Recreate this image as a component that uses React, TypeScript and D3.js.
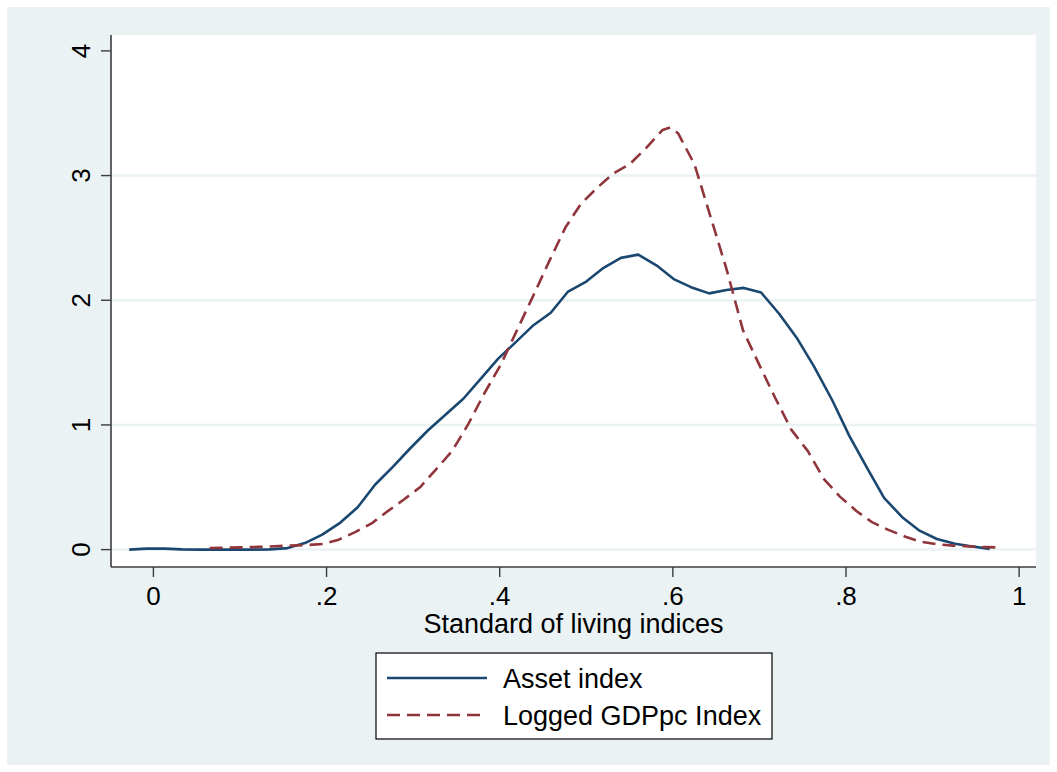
import React from 'react';
import * as d3 from 'd3';

// kernel density estimates (50 evaluation points each)
const assetX = [
  -0.028, -0.008, 0.013, 0.033, 0.053, 0.074, 0.094, 0.114, 0.134, 0.155,
  0.175, 0.195, 0.216, 0.236, 0.256, 0.276, 0.297, 0.317, 0.337, 0.358,
  0.378, 0.398, 0.418, 0.439, 0.459, 0.479, 0.5, 0.52, 0.54, 0.56,
  0.581, 0.601, 0.621, 0.642, 0.662, 0.682, 0.702, 0.723, 0.743, 0.763,
  0.784, 0.804, 0.824, 0.844, 0.865, 0.885, 0.905, 0.926, 0.946, 0.966,
];
const assetY = [
  0.0, 0.008, 0.008, 0.002, 0.0, 0.0, 0.0, 0.0, 0.002, 0.012,
  0.052, 0.12, 0.217, 0.34, 0.52, 0.66, 0.815, 0.955, 1.08, 1.21,
  1.37, 1.53, 1.66, 1.8, 1.9, 2.07, 2.15, 2.26, 2.34, 2.366,
  2.28, 2.17, 2.105, 2.055, 2.082, 2.099, 2.062, 1.89, 1.7, 1.47,
  1.2, 0.91, 0.66, 0.415, 0.26, 0.152, 0.085, 0.047, 0.025, 0.006,
];

const gdpX = [
  0.065, 0.084, 0.102, 0.121, 0.14, 0.158, 0.177, 0.196, 0.214, 0.233,
  0.252, 0.27, 0.289, 0.308, 0.326, 0.345, 0.364, 0.382, 0.401, 0.42,
  0.438, 0.457, 0.476, 0.494, 0.513, 0.532, 0.55, 0.569, 0.588, 0.597,
  0.606, 0.625, 0.644, 0.662, 0.681, 0.7, 0.718, 0.737, 0.756, 0.774,
  0.793, 0.812, 0.83, 0.849, 0.868, 0.886, 0.905, 0.924, 0.942, 0.961, 0.98,
];
const gdpY = [
  0.012, 0.015, 0.018, 0.022, 0.027, 0.032, 0.036, 0.045, 0.08, 0.14,
  0.21, 0.305, 0.4, 0.5, 0.64, 0.79, 1.01, 1.25, 1.48, 1.76,
  2.025, 2.31, 2.585, 2.775, 2.905, 3.02, 3.09, 3.22, 3.365, 3.385,
  3.34, 3.09, 2.66, 2.25, 1.76, 1.48, 1.22, 0.96, 0.79, 0.57,
  0.425, 0.31, 0.22, 0.158, 0.105, 0.063, 0.043, 0.032, 0.026, 0.02, 0.016,
];

const xTicks = [0, 0.2, 0.4, 0.6, 0.8, 1];
const xTickLabels = ['0', '.2', '.4', '.6', '.8', '1'];
const yTicks = [0, 1, 2, 3, 4];
const gridValues = [0, 1, 2, 3];

const seriesNames = ['Asset index', 'Logged GDPpc Index'];
const seriesColors = ['#1a476f', '#90353b'];
const seriesDash = [null, '13,7'];

const W = 1057;
const H = 772;
const plot = { left: 111, right: 1036, top: 35, bottom: 567 };
const font = '"Liberation Sans", Arial, Helvetica, sans-serif';
const bg = '#eaf2f3';

export default function App() {
  const x = d3.scaleLinear().domain([-0.049, 1.0195]).range([plot.left, plot.right]);
  const y = d3.scaleLinear().domain([-0.1395, 4.1275]).range([plot.bottom, plot.top]);

  const line = d3.line<[number, number]>()
    .x(d => x(d[0]))
    .y(d => y(d[1]));

  const series = [
    assetX.map((v, i) => [v, assetY[i]] as [number, number]),
    gdpX.map((v, i) => [v, gdpY[i]] as [number, number]),
  ];

  const axisColor = '#3c3c3c';
  const legend = { x: 376, y: 653, w: 396, h: 86 };

  return (
    <svg width={W} height={H} style={{ position: 'absolute', left: 0, top: 0, fontFamily: font }}>
      <rect x={0} y={0} width={W} height={H} fill="#fff" />
      <rect x={7} y={7} width={W - 14} height={H - 14} fill={bg} />
      <rect x={plot.left} y={plot.top} width={plot.right - plot.left} height={plot.bottom - plot.top} fill="#fff" />

      {/* gridlines */}
      {gridValues.map(v => (
        <line key={'g' + v} x1={plot.left} x2={plot.right} y1={y(v)} y2={y(v)} stroke={bg} strokeWidth={2.5} />
      ))}

      {/* density curves */}
      {series.map((pts, i) => (
        <path key={'s' + i} d={line(pts) || ''} fill="none" stroke={seriesColors[i]} strokeWidth={2.6}
          strokeDasharray={seriesDash[i] || undefined} strokeLinejoin="round" />
      ))}

      {/* y axis */}
      <line x1={plot.left} x2={plot.left} y1={plot.top} y2={plot.bottom} stroke={axisColor} strokeWidth={1.6} />
      {yTicks.map(v => (
        <g key={'y' + v}>
          <line x1={plot.left - 10} x2={plot.left} y1={y(v)} y2={y(v)} stroke={axisColor} strokeWidth={1.4} />
          <text transform={`translate(90,${y(v)}) rotate(-90)`} textAnchor="middle" fontSize={26} fill="#000">{v}</text>
        </g>
      ))}

      {/* x axis */}
      <line x1={plot.left} x2={plot.right} y1={plot.bottom} y2={plot.bottom} stroke={axisColor} strokeWidth={1.6} />
      {xTicks.map((v, i) => (
        <g key={'x' + v}>
          <line x1={x(v)} x2={x(v)} y1={plot.bottom} y2={plot.bottom + 10} stroke={axisColor} strokeWidth={1.4} />
          <text x={x(v)} y={605} textAnchor="middle" fontSize={26} fill="#000">{xTickLabels[i]}</text>
        </g>
      ))}
      <text x={(plot.left + plot.right) / 2} y={633} textAnchor="middle" fontSize={27} fill="#000">
        Standard of living indices
      </text>

      {/* legend */}
      <rect x={legend.x} y={legend.y} width={legend.w} height={legend.h} fill="#fff" stroke="#000" strokeWidth={1.2} />
      {seriesNames.map((name, i) => {
        const ly = 678 + i * 37;
        return (
          <g key={'l' + i}>
            <line x1={387} x2={487} y1={ly} y2={ly} stroke={seriesColors[i]} strokeWidth={2.6}
              strokeDasharray={seriesDash[i] || undefined} />
            <text x={503} y={ly + 10} fontSize={27} fill="#000">{name}</text>
          </g>
        );
      })}
    </svg>
  );
}
